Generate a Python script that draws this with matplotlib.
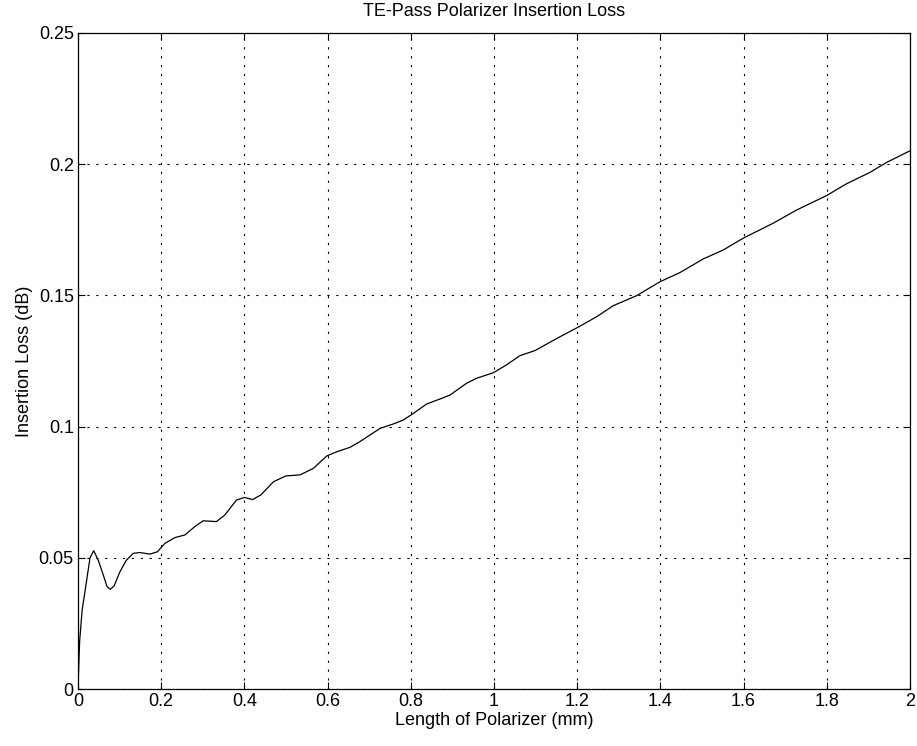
import matplotlib
matplotlib.use("Agg")
import matplotlib.pyplot as plt

plt.rcParams['font.family'] = ['Liberation Sans', 'DejaVu Sans']

length_mm = [0.0, 0.004, 0.010, 0.021, 0.029, 0.038, 0.049, 0.061, 0.070, 0.078, 0.087,
             0.101, 0.116, 0.133, 0.149, 0.173, 0.191, 0.209, 0.233, 0.257, 0.281,
             0.301, 0.333, 0.353, 0.381, 0.400, 0.420, 0.440, 0.470, 0.500, 0.534,
             0.566, 0.598, 0.622, 0.654, 0.678, 0.726, 0.758, 0.782, 0.806, 0.838,
             0.870, 0.894, 0.934, 0.958, 0.998, 1.030, 1.062, 1.099, 1.150, 1.207,
             1.247, 1.287, 1.343, 1.399, 1.447, 1.503, 1.551, 1.599, 1.671, 1.727,
             1.799, 1.847, 1.904, 1.944, 2.0]
loss_db = [0.0, 0.018, 0.030, 0.0415, 0.050, 0.0527, 0.049, 0.0434, 0.039, 0.038, 0.0393,
           0.0447, 0.049, 0.0517, 0.052, 0.0514, 0.0523, 0.0555, 0.0577, 0.0587, 0.0619,
           0.0641, 0.0638, 0.0663, 0.0720, 0.0730, 0.0722, 0.0740, 0.0790, 0.0812, 0.0816,
           0.0841, 0.0888, 0.0904, 0.0921, 0.0943, 0.0993, 0.101, 0.1025, 0.105, 0.1086,
           0.1105, 0.112, 0.1165, 0.1184, 0.1205, 0.1235, 0.127, 0.129, 0.1335, 0.1383,
           0.1419, 0.1461, 0.1499, 0.1552, 0.1587, 0.1639, 0.1673, 0.1718, 0.1775, 0.1825,
           0.188, 0.1925, 0.1969, 0.2007, 0.2051]

x_ticks = [0, 0.2, 0.4, 0.6, 0.8, 1, 1.2, 1.4, 1.6, 1.8, 2]
x_ticklabels = ['0', '0.2', '0.4', '0.6', '0.8', '1', '1.2', '1.4', '1.6', '1.8', '2']
y_ticks = [0, 0.05, 0.1, 0.15, 0.2, 0.25]
y_ticklabels = ['0', '0.05', '0.1', '0.15', '0.2', '0.25']

fig = plt.figure(figsize=(9.17, 7.46), dpi=100)
ax = fig.add_axes([0.085, 0.0764, 0.9074, 0.8794])
ax.plot(length_mm, loss_db, color='black', linewidth=0.9)
ax.set_xlim(0, 2)
ax.set_ylim(0, 0.25)
ax.set_xticks(x_ticks)
ax.set_xticklabels(x_ticklabels)
ax.set_yticks(y_ticks)
ax.set_yticklabels(y_ticklabels)
ax.tick_params(direction='in', top=True, right=True, labelsize=13, length=5, width=0.8, pad=3)
ax.grid(True, linestyle=(0, (2, 6)), color='black', linewidth=0.8)
for s in ax.spines.values():
    s.set_linewidth(0.9)
ax.set_xlabel('Length of Polarizer (mm)', fontsize=13, labelpad=1)
ax.set_ylabel('Insertion Loss (dB)', fontsize=13, labelpad=4)
ax.set_title('TE-Pass Polarizer Insertion Loss', fontsize=13, pad=12)
fig.savefig('out.png', dpi=100)
